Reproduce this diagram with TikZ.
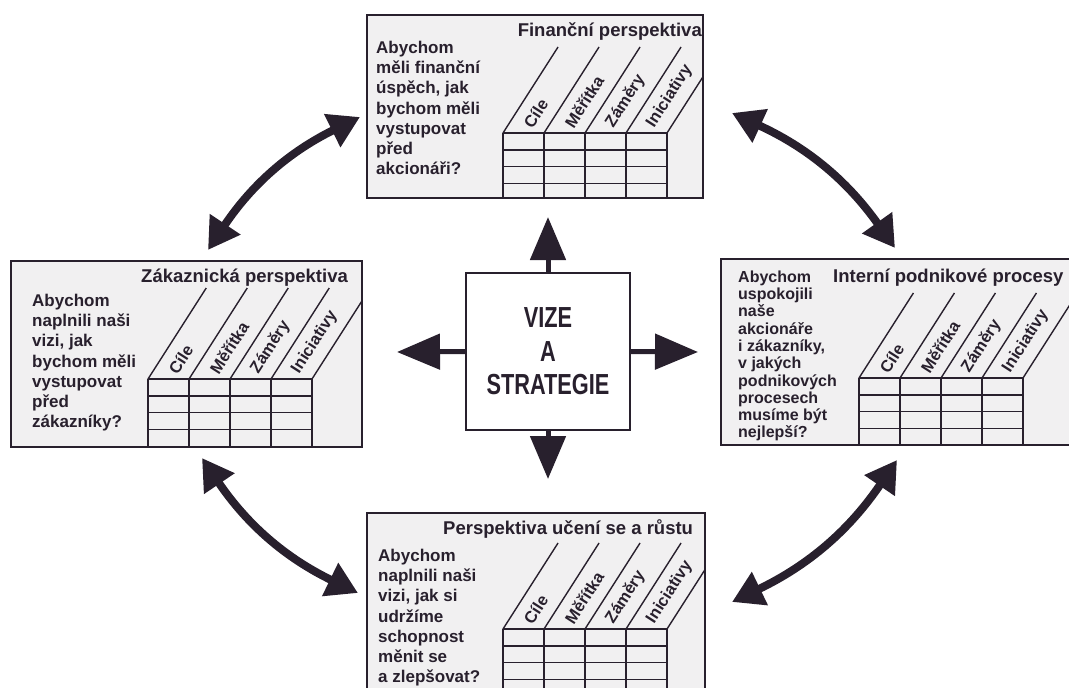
\documentclass[tikz,border=0pt]{standalone}
\usepackage{fontspec}
\setmainfont{Liberation Sans}
\newfontfamily\uzkyfont{Liberation Sans}[FakeStretch=0.75]
\usetikzlibrary{arrows.meta}
\definecolor{ink}{RGB}{40,32,45}
\definecolor{papir}{RGB}{241,240,241}

% table with slanted column heads: name of box, x, table top, slant top, bottom
\newcommand{\tabulka}[5]{%
  \begin{scope}
    \clip (#1.north west) rectangle (#1.south east);
    \foreach \i in {0,...,4} {
      \draw[tabline] (#2+41*\i,#3) -- (#2+41*\i,#5);
      \draw[tabline] (#2+41*\i,#3) -- ++({(#3-#4)*0.64},{-(#3-#4)});
    }
    \foreach \j in {0,...,3}
      \draw[tabline] (#2,#3+16.8*\j) -- (#2+164,#3+16.8*\j);
    \foreach \lab [count=\i from 0] in {Cíle,Měřítka,Záměry,Iniciativy}
      \node[collab] (#1-\i) at (#2+41*\i+24,#3-6) {\lab};
  \end{scope}
}

\begin{document}
\begin{tikzpicture}[x=1pt,y=-1pt,
    persp/.style={draw=ink, line width=1.6pt, fill=papir, inner sep=0pt},
    tabline/.style={draw=ink, line width=1.4pt},
    collab/.style={anchor=west, rotate=57.4, inner sep=1pt, text=ink,
      font=\fontsize{16.5}{16.5}\selectfont\bfseries},
    titul/.style={anchor=base west, inner sep=0pt, text=ink,
      font=\fontsize{18.5}{20}\selectfont\bfseries},
    otazka/.style={anchor=north west, align=left, inner sep=0pt, text=ink,
      font=\fontsize{17}{20.2}\selectfont\bfseries},
    sipka/.style={-{Triangle[length=43pt,width=35pt]}, line width=5pt, draw=ink},
    dvoj/.style={{Triangle[length=31pt,width=35pt]}-{Triangle[length=31pt,width=35pt]},
      line width=8pt, draw=ink}]
  \useasboundingbox (0,0) rectangle (1069,688);
  \clip (0,0) rectangle (1069,688);

  % four perspectives
  \node[persp, minimum width=336pt, minimum height=183pt] (fin) at (535,106.5) {};
  \node[persp, minimum width=351pt, minimum height=186pt] (zak) at (186.5,354) {};
  \node[persp, minimum width=364pt, minimum height=186pt] (int) at (903,352) {};
  \node[persp, minimum width=338pt, minimum height=192pt] (uce) at (536,609) {};

  \tabulka{fin}{503}{133}{47}{198}
  \tabulka{zak}{148}{379}{288}{447}
  \tabulka{int}{859}{378}{293}{445}
  \tabulka{uce}{503}{629}{543}{705}

  \node[titul, anchor=base east] (fin-t) at (702,36) {Finanční perspektiva};
  \node[titul] (zak-t) at (141,282) {Zákaznická perspektiva};
  \node[titul] (int-t) at (833,282) {Interní podnikové procesy};
  \node[titul] (uce-t) at (443,534) {Perspektiva učení se a růstu};

  \node[otazka] (fin-q) at (376,41) {Abychom\\měli finanční\\úspěch, jak\\bychom měli\\vystupovat\\před\\akcionáři?};
  \node[otazka] (zak-q) at (32,294) {Abychom\\naplnili naši\\vizi, jak\\bychom měli\\vystupovat\\před\\zákazníky?};
  \node[otazka, font=\fontsize{16}{17.3}\selectfont\bfseries] (int-q) at (738,270.5)
    {Abychom\\uspokojili\\naše\\akcionáře\\i zákazníky,\\v jakých\\podnikových\\procesech\\musíme být\\nejlepší?};
  \node[otazka] (uce-q) at (378,549) {Abychom\\naplnili naši\\vizi, jak si\\udržíme\\schopnost\\měnit se\\a zlepšovat?};

  % vision in the middle
  \node[draw=ink, line width=1.6pt, fill=white, minimum width=164pt, minimum height=157pt,
    align=center, text=ink, font=\fontsize{29}{33.5}\selectfont\uzkyfont\bfseries]
    (vize) at (548,351.5) {VIZE\\A\\STRATEGIE};
  \coordinate (vN) at (548,217);
  \coordinate (vS) at (548,479);
  \coordinate (vW) at (397,352);
  \coordinate (vE) at (698,352);
  \draw[sipka] (vize.north) -- (vN);
  \draw[sipka] (vize.south) -- (vS);
  \draw[sipka] (vize.west) -- (vW);
  \draw[sipka] (vize.east) -- (vE);

  % links between perspectives
  \coordinate (a1) at (208,250);
  \coordinate (a2) at (360,117);
  \coordinate (b1) at (732,113);
  \coordinate (b2) at (895,248);
  \coordinate (c1) at (897,460);
  \coordinate (c2) at (732,602);
  \coordinate (d1) at (358,593);
  \coordinate (d2) at (202,458);
  \draw[dvoj] (a1) to[bend left=15] (a2);
  \draw[dvoj] (b1) to[bend left=15] (b2);
  \draw[dvoj] (c1) to[bend left=15] (c2);
  \draw[dvoj] (d1) to[bend left=15] (d2);
\end{tikzpicture}
\end{document}
